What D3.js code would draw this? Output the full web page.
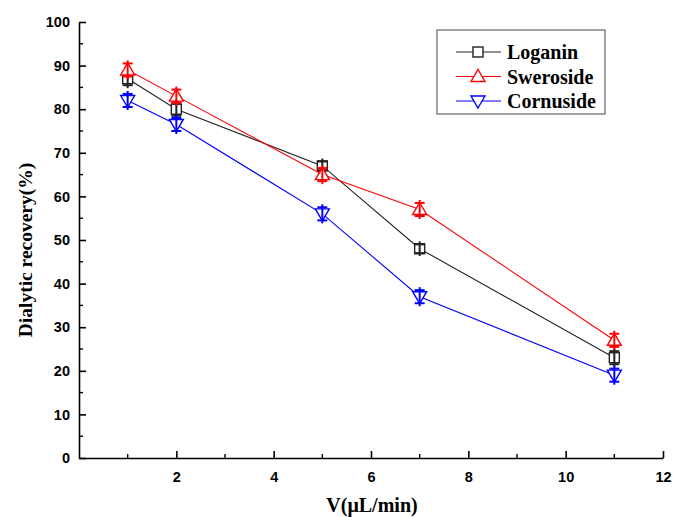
<html>
<head>
<script src="https://d3js.org/d3.v7.min.js"></script>
<style>
  body { margin: 0; background: #fff; }
</style>
</head>
<body>
<script>
const flows = [1, 2, 5, 7, 11];
const loganin = [87, 80, 67, 48, 23];
const loganinErr = [1.5, 1.5, 1, 1, 1.5];
const sweroside = [89, 83, 65, 57, 27];
const swerosideErr = [1.5, 1.5, 1.5, 1.5, 1.5];
const cornuside = [82, 76.5, 56, 37, 19];
const cornusideErr = [1.5, 1.5, 1.5, 1.5, 1.5];
const xTicks = [2, 4, 6, 8, 10, 12];
const yTicks = [0, 10, 20, 30, 40, 50, 60, 70, 80, 90, 100];

const series = [
  { name: "Loganin", values: loganin, err: loganinErr, color: "#222", symbol: "square" },
  { name: "Sweroside", values: sweroside, err: swerosideErr, color: "#ff0000", symbol: "up" },
  { name: "Cornuside", values: cornuside, err: cornusideErr, color: "#0000ff", symbol: "down" }
];

const w = 675, h = 517;
const svg = d3.select("body").append("svg").attr("width", w).attr("height", h);

const x = d3.scaleLinear().domain([0, 12]).range([79, 663]);
const y = d3.scaleLinear().domain([0, 100]).range([458, 22]);

// axes, ticks inward
const xAxis = d3.axisBottom(x).tickValues(xTicks).tickSize(-7).tickSizeOuter(0).tickPadding(14);
const yAxis = d3.axisLeft(y).tickValues(yTicks).tickSize(-7).tickSizeOuter(0).tickPadding(9);

const gx = svg.append("g").attr("transform", "translate(0," + y(0) + ")").call(xAxis);
const gy = svg.append("g").attr("transform", "translate(" + x(0) + ",0)").call(yAxis);
[gx, gy].forEach(g => {
  g.select(".domain").attr("stroke", "#000").attr("stroke-width", 1.6);
  g.selectAll(".tick line").attr("stroke", "#000").attr("stroke-width", 1.6);
  g.selectAll(".tick text").attr("font-family", "Liberation Sans, Arial, sans-serif")
    .attr("font-weight", "bold").attr("font-size", 14.5).attr("fill", "#000");
});
// minor ticks
svg.append("g").selectAll("line").data(d3.range(1, 12, 2)).enter().append("line")
  .attr("x1", d => x(d)).attr("x2", d => x(d))
  .attr("y1", y(0)).attr("y2", y(0) - 4)
  .attr("stroke", "#000").attr("stroke-width", 1.4);
svg.append("g").selectAll("line").data(d3.range(5, 100, 10)).enter().append("line")
  .attr("x1", x(0)).attr("x2", x(0) + 4)
  .attr("y1", d => y(d)).attr("y2", d => y(d))
  .attr("stroke", "#000").attr("stroke-width", 1.4);

// axis titles
svg.append("text").attr("x", 372).attr("y", 512).attr("text-anchor", "middle")
  .attr("font-family", "Liberation Serif, Times New Roman, serif").attr("font-weight", "bold")
  .attr("font-size", 20).text("V(μL/min)");
svg.append("text").attr("transform", "translate(32,250) rotate(-90)").attr("text-anchor", "middle")
  .attr("font-family", "Liberation Serif, Times New Roman, serif").attr("font-weight", "bold")
  .attr("font-size", 19.5).text("Dialytic recovery(%)");

function drawMarker(g, sym, cx, cy, color) {
  const s = 6;
  if (sym === "square") {
    g.append("rect").attr("x", cx - s + 1).attr("y", cy - s + 1).attr("width", 2 * s - 2).attr("height", 2 * s - 2)
      .attr("fill", "#fff").attr("stroke", color).attr("stroke-width", 1.4);
  } else if (sym === "up") {
    g.append("path").attr("d", `M${cx},${cy - s - 1}L${cx + s + 1},${cy + s - 1}L${cx - s - 1},${cy + s - 1}Z`)
      .attr("fill", "#fff").attr("stroke", color).attr("stroke-width", 1.4);
  } else {
    g.append("path").attr("d", `M${cx},${cy + s + 1}L${cx + s + 1},${cy - s + 1}L${cx - s - 1},${cy - s + 1}Z`)
      .attr("fill", "#fff").attr("stroke", color).attr("stroke-width", 1.4);
  }
}

const line = d3.line().x(d => x(d[0])).y(d => y(d[1]));

series.forEach(s => {
  const pts = flows.map((f, i) => [f, s.values[i], s.err[i]]);
  const g = svg.append("g");
  g.append("path").datum(pts).attr("d", line).attr("fill", "none")
    .attr("stroke", s.color).attr("stroke-width", 1.1);
  pts.forEach(p => {
    drawMarker(g, s.symbol, x(p[0]), y(p[1]), s.color);
    // error bars
    g.append("line").attr("x1", x(p[0])).attr("x2", x(p[0]))
      .attr("y1", y(p[1] + p[2]) - 3).attr("y2", y(p[1] - p[2]) + 3)
      .attr("stroke", s.color).attr("stroke-width", 2);
    [p[1] + p[2], p[1] - p[2]].forEach(v => {
      g.append("line").attr("x1", x(p[0]) - 5).attr("x2", x(p[0]) + 5)
        .attr("y1", y(v)).attr("y2", y(v))
        .attr("stroke", s.color).attr("stroke-width", 2);
    });
  });
});

// legend
const lg = svg.append("g");
lg.append("rect").attr("x", 437).attr("y", 30).attr("width", 168).attr("height", 84)
  .attr("fill", "#fff").attr("stroke", "#444").attr("stroke-width", 1);
series.forEach((s, i) => {
  const ly = 52 + i * 24.5;
  lg.append("line").attr("x1", 456).attr("x2", 501).attr("y1", ly).attr("y2", ly)
    .attr("stroke", s.color).attr("stroke-width", 1.1);
  drawMarker(lg, s.symbol, 478, ly, s.color);
  lg.append("text").attr("x", 507).attr("y", ly + 7)
    .attr("font-family", "Liberation Serif, Times New Roman, serif").attr("font-weight", "bold")
    .attr("font-size", 20).text(s.name);
});
</script>
</body>
</html>
